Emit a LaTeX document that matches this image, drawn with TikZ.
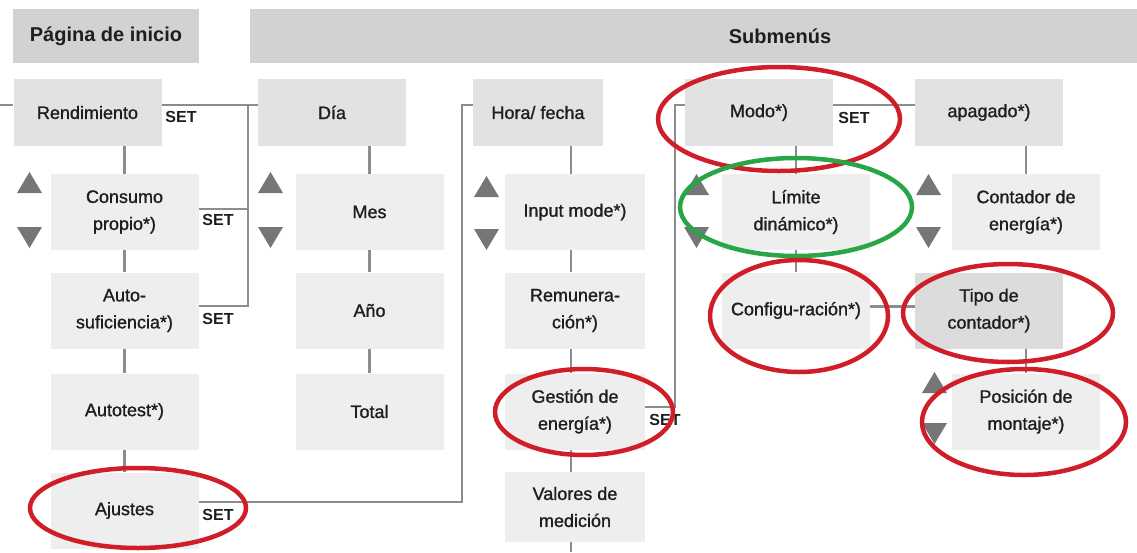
\documentclass[tikz,border=0pt]{standalone}
\usepackage{fontspec}
\setmainfont{Liberation Sans}
\newfontfamily\menufont{Liberation Sans}[FakeBold=1.2]
\definecolor{headgray}{RGB}{210,210,210}
\definecolor{menugray}{RGB}{226,226,226}
\definecolor{itemgray}{RGB}{238,238,238}
\definecolor{tipogray}{RGB}{220,220,220}
\definecolor{linegray}{RGB}{140,140,140}
\definecolor{trigray}{RGB}{118,118,118}
\definecolor{ringred}{RGB}{208,30,40}
\definecolor{ringgreen}{RGB}{40,165,70}
\definecolor{textgray}{RGB}{30,30,30}
\newcommand\updown[3]{% left x, top of up triangle, top of down triangle
  \fill[tri] (#1,#2+21) -- (#1+25,#2+21) -- (#1+12.5,#2) -- cycle;
  \fill[tri] (#1,#3) -- (#1+25,#3) -- (#1+12.5,#3+21) -- cycle;}

\begin{document}
\begin{tikzpicture}[x=1pt,y=-1pt]

\tikzset{every node/.style={font=\menufont\fontsize{18}{27}\selectfont,text=textgray,align=center,inner sep=0pt}}
\tikzset{head/.style={fill=headgray,minimum height=54pt,font=\fontsize{20}{24}\selectfont\bfseries}}
\tikzset{headtext/.style={font=\fontsize{20}{24}\selectfont\bfseries}}
\tikzset{menu/.style={fill=menugray,minimum width=148pt,minimum height=67pt}}
\tikzset{item/.style={fill=itemgray,minimum width=148pt,minimum height=76pt}}
\tikzset{conn/.style={draw=linegray,line width=2.2pt}}
\tikzset{setlbl/.style={font=\fontsize{16}{18}\selectfont\bfseries}}
\tikzset{tri/.style={fill=trigray}}
\tikzset{redring/.style={draw=ringred,line width=4.5pt},greenring/.style={draw=ringgreen,line width=4.5pt}}

\useasboundingbox (0,0) rectangle (1137,552);

% headers
\node[head,minimum width=186pt] (home) at (106,36) {Página de inicio};
\node[head,minimum width=887pt] (subbar) at (693.5,36) {};
\node[headtext] (subtxt) at (780,36) {Submenús};

% first row
\node[menu] (rend)    at (87.5,112.5)  {Rendimiento};
\node[menu] (dia)     at (332,112.5)   {Día};
\node[menu,minimum width=130pt] (hora) at (538,112.5) {Hora/ fecha};
\node[menu] (modo)    at (759,112.5)   {Modo*)};
\node[menu] (apagado) at (989,112.5)   {apagado*)};

% Pagina de inicio
\node[item] (consumo)  at (124.5,212)   {Consumo\\propio*)};
\node[item] (auto)     at (124.5,310.5) {Auto-\\suficiencia*)};
\node[item] (autotest) at (124.5,411.5) {Autotest*)};
\node[item] (ajustes)  at (124.5,510.5) {Ajustes};

% Rendimiento
\node[item] (mes)   at (369.5,212)   {Mes};
\node[item] (anio)  at (369.5,310.5) {Año};
\node[item] (total) at (369.5,411.5) {Total};

% Ajustes
\node[item,minimum width=140pt] (input)   at (575,212)   {Input mode*)};
\node[item,minimum width=140pt] (remun)   at (575,310.5) {Remunera-\\ción*)};
\node[item,minimum width=140pt] (gestion) at (575,411.5) {Gestión de\\energía*)};
\node[item,minimum width=140pt,minimum height=70pt] (valores) at (575,507) {Valores de\\medición};

% Gestion de energia
\node[item] (limite) at (796,212)   {Límite\\dinámico*)};
\node[item] (config) at (796,310.5) {Configu-ración*)};

% Modo
\node[item] (contador) at (1026,212)   {Contador de\\energía*)};
\node[item,fill=tipogray] (tipo) at (989,310.5) {Tipo de\\contador*)};
\node[item] (posicion) at (1026,411.5) {Posición de\\montaje*)};

\coordinate (stub)   at (0,105);
\coordinate (bus1)   at (248,105);
\coordinate (bus2)   at (462,300);
\coordinate (bus3)   at (675,300);
\coordinate (bottom) at (0,552);

% connectors
\draw[conn] (stub) -- ([yshift=7.5pt]rend.west);
\draw[conn] ([yshift=7.5pt]rend.east) -- ([yshift=7.5pt]dia.west);
\draw[conn] (bus1) |- ([yshift=3pt]consumo.east);
\draw[conn] (bus1) |- ([yshift=4.5pt]auto.east);
\draw[conn] ([yshift=8.5pt]ajustes.east) -| (bus2) |- ([yshift=7.5pt]hora.west);
\draw[conn] ([yshift=4.5pt]gestion.east) -| (bus3) |- ([yshift=7.5pt]modo.west);
\draw[conn] ([yshift=7.5pt]modo.east) -- ([yshift=7.5pt]apagado.west);
\draw[conn] ([yshift=4pt]config.east) -- ([yshift=4pt]tipo.west);

\draw[conn] (rend.south -| consumo.north) -- (consumo.north);
\draw[conn] (consumo) -- (auto) -- (autotest) -- (ajustes);
\draw[conn] (dia.south -| mes.north) -- (mes.north);
\draw[conn] (mes) -- (anio) -- (total);
\draw[conn] ([xshift=-4pt]hora.south -| input.north) -- ([xshift=-4pt]input.north);
\draw[conn] ([xshift=-4pt]input.south) -- ([xshift=-4pt]remun.north);
\draw[conn] ([xshift=-4pt]remun.south) -- ([xshift=-4pt]gestion.north);
\draw[conn] ([xshift=-4pt]gestion.south) -- ([xshift=-4pt]valores.north);
\draw[conn] ([xshift=-4pt]valores.south) -- ([xshift=-4pt]valores.south |- bottom);
\draw[conn] (modo.south -| limite.north) -- (limite.north);
\draw[conn] (limite) -- (config);
\draw[conn] (apagado.south -| contador.north) -- (contador.north);
\draw[conn] (tipo.south -| posicion.north) -- (posicion.north);

% up/down keys
\updown{17}{172}{227}
\updown{258}{172}{227}
\updown{474}{176}{229}
\updown{684}{174}{227}
\updown{916}{174}{227}
\updown{922}{372}{423}

% SET labels
\node[setlbl] (set1) at (181,117) {SET};
\node[setlbl] (set2) at (218,220) {SET};
\node[setlbl] (set3) at (218,319) {SET};
\node[setlbl] (set4) at (218,515) {SET};
\node[setlbl] (set5) at (665,420) {SET};
\node[setlbl] (set6) at (854,118) {SET};

% highlights
\draw[redring] (138,508) ellipse [x radius=108,y radius=40];
\draw[redring] (584,412) ellipse [x radius=89,y radius=43];
\draw[redring] (779,119) ellipse [x radius=121,y radius=52];
\draw[greenring] (796,207) ellipse [x radius=116,y radius=49];
\draw[redring] (799,316) ellipse [x radius=89,y radius=56];
\draw[redring] (1008,313) ellipse [x radius=105,y radius=49];
\draw[redring] (1024,422) ellipse [x radius=102,y radius=53];

\end{tikzpicture}
\end{document}
